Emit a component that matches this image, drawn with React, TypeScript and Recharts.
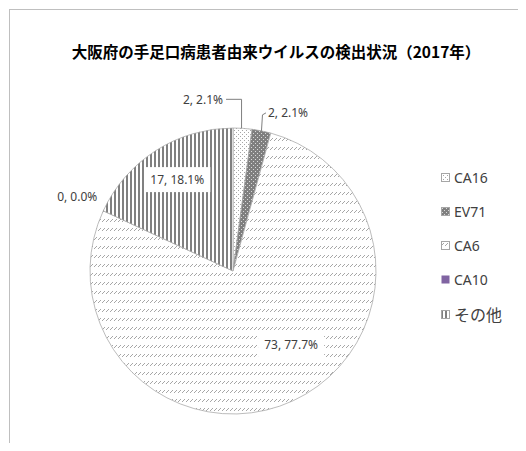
import { PieChart, Pie, Cell, Legend } from "recharts";

const NAMES = ["CA16", "EV71", "CA6", "CA10", "その他"];
const COUNTS = [2, 2, 73, 0, 17];

const FILLS = [
  "url(#pDots)",
  "url(#pDarkDots)",
  "url(#pDash)",
  "#8064A2",
  "url(#pStripes)",
];

// label placement per slice: radius factor + nudge, like the hand-placed excel labels
const LABEL_POS = [
  { k: 1, dx: -19.5, dy: -29, anchor: "end", box: false, leader: "left" },
  { k: 1, dx: 6.5, dy: -18, anchor: "start", box: false, leader: "right" },
  { k: 0.6, dx: 22, dy: -4, anchor: "middle", box: true, leader: "" },
  { k: 1, dx: -6, dy: -14, anchor: "end", box: false, leader: "" },
  { k: 0.75, dx: 2, dy: -1, anchor: "middle", box: true, leader: "" },
];

const RAD = Math.PI / 180;
const FONT = "'Noto Sans', 'Noto Sans CJK JP', sans-serif";

function Patterns() {
  return (
    <svg width={0} height={0} style={{ position: "absolute" }}>
      <defs>
        <pattern id="pDots" width={4} height={4} patternUnits="userSpaceOnUse">
          <rect width={4} height={4} fill="#fff" />
          <rect x={0} y={0} width={1} height={1} fill="#a6a6a6" />
          <rect x={2} y={2} width={1} height={1} fill="#a6a6a6" />
        </pattern>
        <pattern id="pDarkDots" width={4} height={4} patternUnits="userSpaceOnUse">
          <rect width={4} height={4} fill="#7f7f7f" />
          <rect x={1} y={1} width={1} height={1} fill="#d9d9d9" />
          <rect x={3} y={3} width={1} height={1} fill="#d9d9d9" />
        </pattern>
        <pattern id="pDash" width={4} height={9} patternUnits="userSpaceOnUse">
          <rect width={4} height={9} fill="#fff" />
          <line x1={0} y1={5} x2={3} y2={2} stroke="#a6a6a6" strokeWidth={1} />
        </pattern>
        <pattern id="pStripes" width={4} height={4} patternUnits="userSpaceOnUse">
          <rect width={4} height={4} fill="#fff" />
          <rect x={0} y={0} width={2} height={4} fill="#808080" />
        </pattern>
      </defs>
    </svg>
  );
}

function renderLabel(props: any) {
  const { cx, cy, midAngle, outerRadius, index, value, percent } = props;
  const pos = LABEL_POS[index];
  const ex = cx + outerRadius * Math.cos(-midAngle * RAD);
  const ey = cy + outerRadius * Math.sin(-midAngle * RAD);
  const bx = cx + outerRadius * pos.k * Math.cos(-midAngle * RAD);
  const by = cy + outerRadius * pos.k * Math.sin(-midAngle * RAD);
  const tx = bx + pos.dx;
  const ty = by + pos.dy;
  const text = `${value}, ${(percent * 100).toFixed(1)}%`;
  let leader = null;
  if (pos.leader === "left") {
    leader = (
      <polyline
        points={`${tx + 3},${ty} ${ex - 1},${ty} ${ex - 1},${ey}`}
        fill="none"
        stroke="#7f7f7f"
        strokeWidth={1}
      />
    );
  } else if (pos.leader === "right") {
    leader = (
      <polyline
        points={`${tx - 2},${ty} ${ex + 1},${ty + 2} ${ex},${ey}`}
        fill="none"
        stroke="#7f7f7f"
        strokeWidth={1}
      />
    );
  }
  return (
    <g key={`lbl-${index}`}>
      {leader}
      {pos.box && (
        <rect x={tx - 33} y={ty - 12.5} width={66} height={25} fill="#fff" />
      )}
      <text
        x={tx}
        y={ty}
        textAnchor={pos.anchor}
        dominantBaseline="central"
        fontSize={12}
        fontFamily={FONT}
        fill="#404040"
      >
        {text}
      </text>
    </g>
  );
}

function LegendBox() {
  return (
    <div style={{ fontFamily: FONT, color: "#404040" }}>
      {NAMES.map((n, i) => (
        <div
          key={n}
          style={{ height: 34.25, display: "flex", alignItems: "center" }}
        >
          <svg width={9} height={9} style={{ marginRight: 4 }}>
            <rect
              x={0.5}
              y={0.5}
              width={8}
              height={8}
              fill={FILLS[i]}
              stroke={i === 3 ? "none" : "#a6a6a6"}
            />
          </svg>
          <span style={{ fontSize: n === "その他" ? 16 : 14 }}>{n}</span>
        </div>
      ))}
    </div>
  );
}

export default function App() {
  const data = NAMES.map((n, i) => ({ name: n, value: COUNTS[i] }));
  return (
    <div
      style={{
        width: 518,
        height: 435,
        overflow: "hidden",
        position: "relative",
      }}
    >
      <Patterns />
      <div
        style={{
          position: "absolute",
          left: 1,
          top: 1,
          width: 532,
          height: 480,
          border: "1px solid #bfbfbf",
          background: "#fff",
        }}
      >
        <div
          style={{
            position: "absolute",
            left: 0,
            width: 532,
            top: 30,
            textAlign: "center",
            fontFamily: "'Noto Sans CJK JP', sans-serif",
            fontWeight: 700,
            fontSize: 15.5,
            color: "#000",
            zIndex: 2,
          }}
        >
          大阪府の手足口病患者由来ウイルスの検出状況（2017年）
        </div>
        <PieChart width={532} height={480}>
          <Pie
            data={data}
            dataKey="value"
            nameKey="name"
            cx={218}
            cy={256}
            outerRadius={143}
            startAngle={90}
            endAngle={-270}
            stroke="#a6a6a6"
            strokeWidth={0.75}
            label={renderLabel}
            labelLine={false}
            isAnimationActive={false}
          >
            {data.map((d, i) => (
              <Cell key={d.name} fill={FILLS[i]} />
            ))}
          </Pie>
          <Legend
            content={() => <LegendBox />}
            wrapperStyle={{ position: "absolute", left: 431, top: 150, width: 90 }}
          />
        </PieChart>
      </div>
    </div>
  );
}
